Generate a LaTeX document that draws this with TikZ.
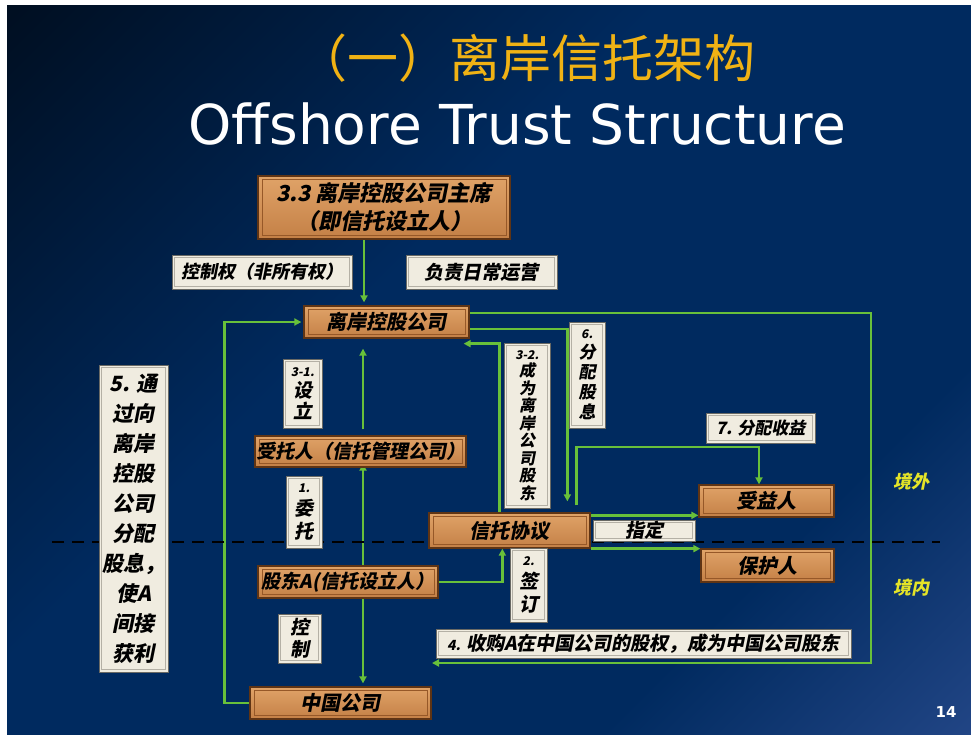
\documentclass[tikz,border=0pt]{standalone}
\usepackage{fontspec}
\usetikzlibrary{arrows.meta,calc}
\newfontfamily\cjkb{Noto Sans CJK SC}[FakeSlant=0.2]
\newfontfamily\cjkt{Noto Sans CJK SC}
\newfontfamily\engt{DejaVu Sans}
\definecolor{bgA}{RGB}{0,0,0}
\definecolor{bgB}{RGB}{0,42,95}
\definecolor{bgC}{RGB}{64,94,168}
\definecolor{woodA}{RGB}{224,163,104}
\definecolor{woodB}{RGB}{196,128,70}
\definecolor{woodD}{RGB}{95,52,20}
\definecolor{woodE}{RGB}{150,88,40}
\definecolor{paperF}{RGB}{240,236,224}
\definecolor{paperD}{RGB}{105,105,100}
\definecolor{paperE}{RGB}{180,176,165}
\definecolor{arrG}{RGB}{104,192,58}
\definecolor{titleY}{RGB}{240,178,20}
\definecolor{zoneY}{RGB}{228,228,40}
\pgfdeclareverticalshading{bgsh}{100bp}{color(0bp)=(bgC); color(30bp)=(bgB); color(58bp)=(bgB); color(100bp)=(bgA)}
\begin{document}
\begin{tikzpicture}[x=1pt,y=-1pt,
  wood/.style={draw=woodD, line width=1.3pt, top color=woodA, bottom color=woodB, inner sep=0pt,
    text=black, align=center, font=\cjkb\bfseries\fontsize{20}{24}\selectfont,
    path picture={\draw[woodE,line width=1pt] ([shift={(4pt,-3.5pt)}]path picture bounding box.north west) rectangle ([shift={(-4pt,3.5pt)}]path picture bounding box.south east);}},
  paper/.style={draw=paperD, line width=1pt, fill=paperF, inner sep=0pt,
    text=black, align=center, font=\cjkb\bfseries\fontsize{19}{22}\selectfont,
    path picture={\draw[paperE,line width=1.6pt] ([shift={(2.5pt,-2.5pt)}]path picture bounding box.north west) rectangle ([shift={(-2.5pt,2.5pt)}]path picture bounding box.south east);}},
  arr/.style={draw=arrG, line width=2.8pt, -{Triangle[length=7pt,width=7pt]}},
  zone/.style={text=zoneY, font=\cjkb\bfseries\fontsize{18}{20}\selectfont}
]
\useasboundingbox (0,0) rectangle (971,734);
\fill[white] (0,0) rectangle (971,734);
\shade[shading=bgsh, shading angle=45] (7,5) rectangle (971,734);

% titles
\node[text=titleY, font=\cjkt\fontsize{51}{60}\selectfont] (t1) at (526,58) {（一）离岸信托架构};
\node[text=white, font=\engt\fontsize{55}{62}\selectfont] (t2) at (517,124) {Offshore Trust Structure};

% coordinates for free ends
\coordinate (c4) at (432,663);
\coordinate (rc) at (871,663);
\coordinate (k7) at (759,447);
\coordinate (dl) at (52,542);
\coordinate (dr) at (940,542);

% wood boxes (placed first to name anchors)
\node[wood, minimum width=252pt, minimum height=63pt, font=\cjkb\bfseries\fontsize{22}{28}\selectfont] (chair) at (384,207.5) {3.3 离岸控股公司主席\\（即信托设立人）};
\node[wood, minimum width=165pt, minimum height=32pt] (lian) at (386.5,322) {离岸控股公司};
\node[wood, minimum width=211pt, minimum height=31pt, font=\cjkb\bfseries\fontsize{19}{22}\selectfont] (trustee) at (360.5,451.5) {受托人（信托管理公司）};
\node[wood, minimum width=161pt, minimum height=35pt] (xieyi) at (509.5,530.5) {信托协议};
\node[wood, minimum width=135pt, minimum height=32pt] (syr) at (766.5,501) {受益人};
\node[wood, minimum width=133pt, minimum height=33pt] (bhr) at (767.5,565.5) {保护人};
\node[wood, minimum width=180pt, minimum height=32pt, font=\cjkb\bfseries\fontsize{19}{22}\selectfont] (gda) at (348,582) {股东A(信托设立人）};
\node[wood, minimum width=181pt, minimum height=32pt] (china) at (340.5,703) {中国公司};

% connectors
\draw[arr, shorten >=3pt] ([xshift=-20pt]chair.south) -- ([xshift=-20pt]chair.south |- lian.north);
\draw[arr, shorten <=6pt, shorten >=10pt] ([xshift=2.5pt]trustee.north) -- ([xshift=2.5pt]trustee.north |- lian.south);
\draw[arr, shorten >=-4pt] ([xshift=15pt]gda.north) -- ([xshift=15pt]gda.north |- trustee.south);
\draw[arr, shorten >=3pt] ([xshift=15pt]gda.south) -- ([xshift=15pt]gda.south |- china.north);
\draw[arr, shorten >=2pt] (china.west) -- ++(-25,0) |- (lian.west);
\draw[arr] ([yshift=9pt]lian.east) -| (rc) -- (c4);
\draw[arr, shorten >=11pt] ([yshift=-7pt]lian.east) -| ($(xieyi.north west)+(139,0)$);
\draw[arr] ($(xieyi.north west)+(71,0)$) |- ($(lian.south east)+(-6,5)$);
\coordinate (s7) at ($(xieyi.north west)+(148,-7)$);
\draw[arr] (s7) |- (k7) -- (k7 |- syr.north);
\coordinate (s1) at ($(xieyi.north east)+(0,3)$);
\draw[arr] (s1) -- (s1 -| syr.west);
\draw[arr] (xieyi.south east) -- (xieyi.south east -| bhr.west);
\draw[arr] (gda.east) -| ($(xieyi.south west)+(74,0)$);

% border line
\draw[black, line width=2.6pt, dash pattern=on 12pt off 8pt] (dl) -- (dr);

% redraw wood boxes on top of lines
\node[wood, minimum width=252pt, minimum height=63pt, font=\cjkb\bfseries\fontsize{22}{28}\selectfont] at (chair) {3.3 离岸控股公司主席\\（即信托设立人）};
\node[wood, minimum width=165pt, minimum height=32pt] at (lian) {离岸控股公司};
\node[wood, minimum width=211pt, minimum height=31pt, font=\cjkb\bfseries\fontsize{19}{22}\selectfont] at (trustee) {受托人（信托管理公司）};
\node[wood, minimum width=161pt, minimum height=35pt] at (xieyi) {信托协议};
\node[wood, minimum width=135pt, minimum height=32pt] at (syr) {受益人};
\node[wood, minimum width=133pt, minimum height=33pt] at (bhr) {保护人};
\node[wood, minimum width=180pt, minimum height=32pt, font=\cjkb\bfseries\fontsize{19}{22}\selectfont] at (gda) {股东A(信托设立人）};
\node[wood, minimum width=181pt, minimum height=32pt] at (china) {中国公司};

% paper labels
\node[paper, minimum width=180pt, minimum height=34pt, font=\cjkb\bfseries\fontsize{18}{22}\selectfont] (lctrl) at (262,272) {控制权（非所有权）};
\node[paper, minimum width=151pt, minimum height=34pt] (ldaily) at (481.5,272) {负责日常运营};
\node[paper, minimum width=39pt, minimum height=69pt, font=\cjkb\bfseries\fontsize{19}{21}\selectfont] (l31) at (302.5,393.5) {{\fontsize{12}{14}\selectfont 3-1.}\\设\\立};
\node[paper, minimum width=36pt, minimum height=72pt, font=\cjkb\bfseries\fontsize{19}{23}\selectfont] (l1) at (304,512) {{\fontsize{12}{14}\selectfont 1.}\\委\\托};
\node[paper, minimum width=69pt, minimum height=307pt, font=\cjkb\bfseries\fontsize{21}{30}\selectfont] (l5) at (133.5,518.5) {5. 通\\过向\\离岸\\控股\\公司\\分配\\股息，\\使A\\间接\\获利};
\node[paper, minimum width=46pt, minimum height=165pt, font=\cjkb\bfseries\fontsize{16}{17.5}\selectfont] (l32) at (527,425.5) {{\fontsize{12}{14}\selectfont 3-2.}\\成\\为\\离\\岸\\公\\司\\股\\东};
\node[paper, minimum width=36pt, minimum height=106pt, font=\cjkb\bfseries\fontsize{17}{20}\selectfont] (l6) at (587,375) {{\fontsize{12}{14}\selectfont 6.}\\分\\配\\股\\息};
\node[paper, minimum width=109pt, minimum height=30pt, font=\cjkb\bfseries\fontsize{17}{20}\selectfont] (l7) at (760.5,428) {7. 分配收益};
\node[paper, minimum width=102pt, minimum height=21pt, font=\cjkb\bfseries\fontsize{19}{20}\selectfont] (lzd) at (644,530.5) {指定};
\node[paper, minimum width=37pt, minimum height=74pt, font=\cjkb\bfseries\fontsize{19}{23}\selectfont] (l2) at (528.5,585) {{\fontsize{12}{14}\selectfont 2.}\\签\\订};
\node[paper, minimum width=43pt, minimum height=49pt, font=\cjkb\bfseries\fontsize{19}{22}\selectfont] (lkz) at (299.5,638.5) {控\\制};
\node[paper, minimum width=415pt, minimum height=29pt, font=\cjkb\bfseries\fontsize{19}{22}\selectfont] (l4) at (643.5,643.5) {{\fontsize{14}{16}\selectfont 4.} 收购A在中国公司的股权，成为中国公司股东};

% zone labels
\node[zone] (zw) at (911,482) {境外};
\node[zone] (zn) at (911,588) {境内};
\node[text=white, font=\engt\bfseries\fontsize{15}{18}\selectfont] (pg) at (946,712) {14};
\end{tikzpicture}
\end{document}
